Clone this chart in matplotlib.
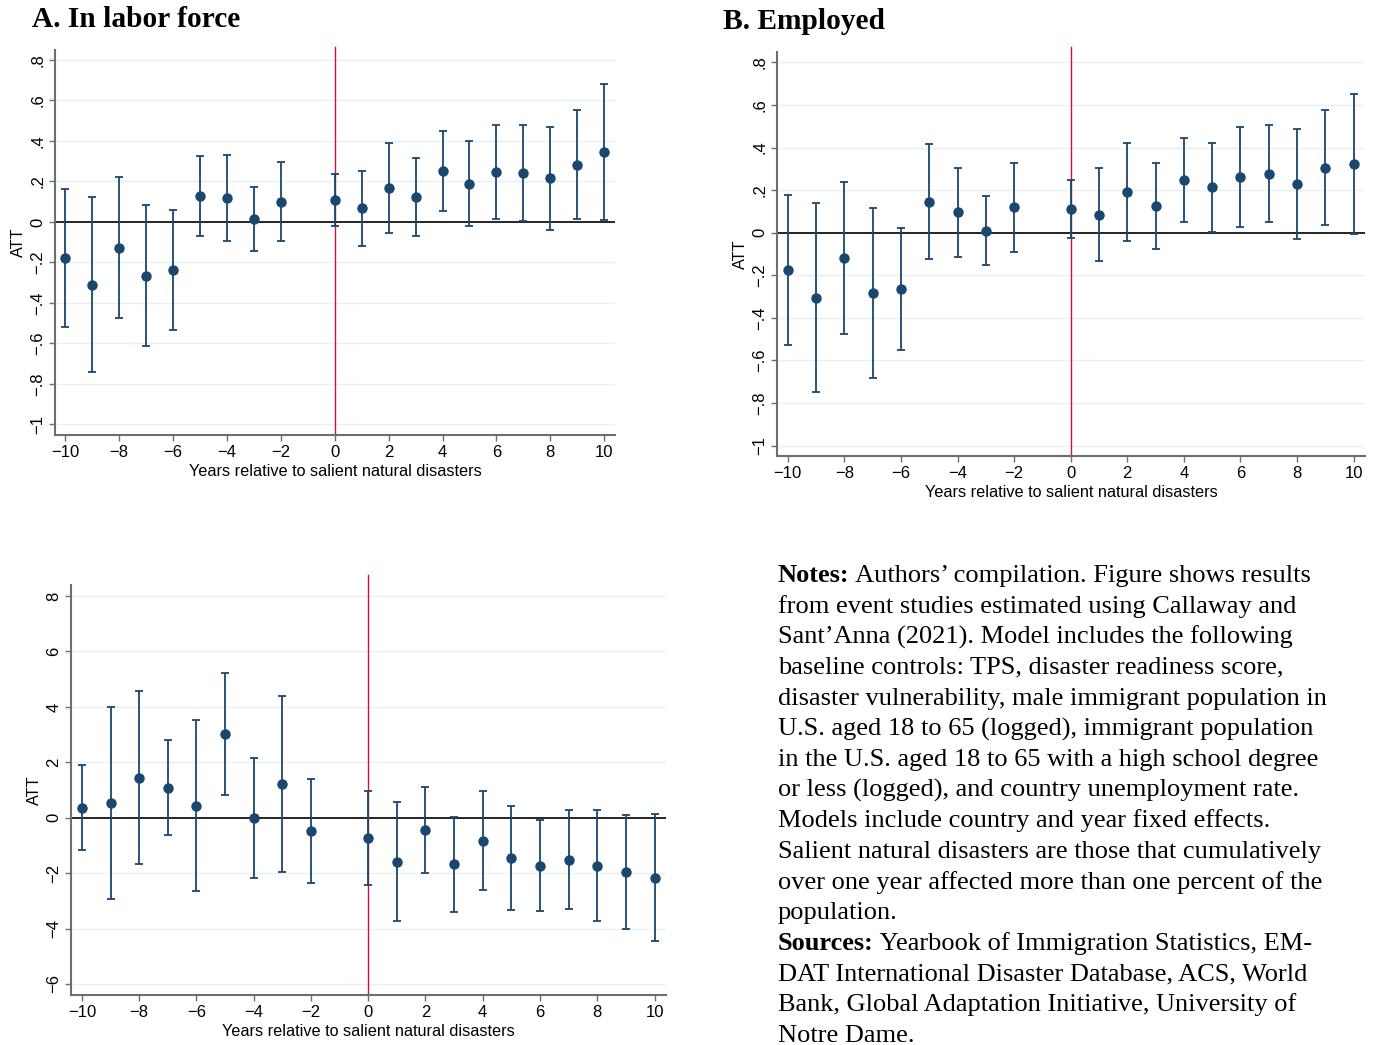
import matplotlib
matplotlib.use("Agg")
import matplotlib.pyplot as plt
import numpy as np

plt.rcParams['font.family'] = ['Liberation Sans', 'DejaVu Sans']

years = [-10, -9, -8, -7, -6, -5, -4, -3, -2, 0, 1, 2, 3, 4, 5, 6, 7, 8, 9, 10]

# A. In labor force
att_a = [-0.179, -0.309, -0.127, -0.265, -0.237, 0.128, 0.120, 0.013, 0.099, 0.107,
         0.067, 0.168, 0.123, 0.250, 0.189, 0.247, 0.244, 0.216, 0.283, 0.347]
hi_a = [0.161, 0.125, 0.222, 0.086, 0.059, 0.326, 0.333, 0.171, 0.295, 0.235,
        0.253, 0.392, 0.314, 0.448, 0.402, 0.481, 0.481, 0.471, 0.553, 0.683]
lo_a = [-0.517, -0.741, -0.474, -0.612, -0.532, -0.069, -0.092, -0.142, -0.095, -0.018,
        -0.117, -0.053, -0.067, 0.053, -0.018, 0.013, 0.007, -0.040, 0.015, 0.012]

# B. Employed
att_b = [-0.177, -0.305, -0.119, -0.285, -0.265, 0.146, 0.095, 0.009, 0.119, 0.111,
         0.085, 0.191, 0.125, 0.249, 0.213, 0.261, 0.277, 0.227, 0.305, 0.323]
hi_b = [0.175, 0.138, 0.236, 0.116, 0.023, 0.418, 0.304, 0.171, 0.329, 0.249,
        0.302, 0.420, 0.326, 0.446, 0.423, 0.498, 0.507, 0.485, 0.578, 0.654]
lo_b = [-0.528, -0.748, -0.474, -0.684, -0.553, -0.125, -0.113, -0.152, -0.089, -0.025,
        -0.132, -0.039, -0.077, 0.052, 0.005, 0.027, 0.049, -0.030, 0.034, -0.006]

# C. (untitled panel)
att_c = [0.361, 0.529, 1.444, 1.083, 0.433, 3.020, 0.0, 1.215, -0.493, -0.746,
         -1.588, -0.457, -1.684, -0.830, -1.456, -1.732, -1.528, -1.744, -1.973, -2.165]
hi_c = [1.889, 4.006, 4.559, 2.815, 3.513, 5.233, 2.141, 4.379, 1.395, 0.950,
        0.577, 1.095, 0.036, 0.962, 0.409, -0.096, 0.265, 0.265, 0.096, 0.120]
lo_c = [-1.167, -2.935, -1.660, -0.638, -2.647, 0.806, -2.165, -1.949, -2.358, -2.418,
        -3.741, -2.009, -3.392, -2.611, -3.320, -3.368, -3.308, -3.729, -4.030, -4.439]

xticks = [-10, -8, -6, -4, -2, 0, 2, 4, 6, 8, 10]
xticklabels = ['\u221210', '\u22128', '\u22126', '\u22124', '\u22122', '0', '2', '4', '6', '8', '10']
yticks_ab = [0.8, 0.6, 0.4, 0.2, 0, -0.2, -0.4, -0.6, -0.8, -1]
yticklabels_ab = ['.8', '.6', '.4', '.2', '0', '\u2212.2', '\u2212.4', '\u2212.6', '\u2212.8', '\u22121']
yticks_c = [8, 6, 4, 2, 0, -2, -4, -6]
yticklabels_c = ['8', '6', '4', '2', '0', '\u22122', '\u22124', '\u22126']

W, H = 1381, 1045
fig = plt.figure(figsize=(W / 100, H / 100), dpi=100)

navy = '#1a476f'
red = '#d0103a'
grid_c = '#e8f0f2'
spine_c = '#6e6e6e'


def px_axes(left, top, right, bottom):
    return fig.add_axes([left / W, 1 - bottom / H, (right - left) / W, (bottom - top) / H])


def draw_panel(ax, att, lo, hi, yticks, ylabels, ylim, vtop):
    x = np.array(years)
    att = np.array(att)
    yerr = [att - np.array(lo), np.array(hi) - att]
    for t in yticks:
        if t != 0:
            ax.axhline(t, color=grid_c, lw=1.0, zorder=0)
    ax.axhline(0, color='black', lw=1.2, zorder=1)
    ax.axvline(0, ymin=0, ymax=vtop, color=red, lw=1.0, zorder=2, clip_on=False)
    ax.errorbar(x, att, yerr=yerr, fmt='o', color=navy, ecolor=navy, elinewidth=1.3,
                capsize=3, capthick=1.3, ms=6.5, zorder=3)
    ax.set_xlim(-10.38, 10.4)
    ax.set_ylim(*ylim)
    ax.set_xticks(xticks)
    ax.set_xticklabels(xticklabels, fontsize=12)
    ax.set_yticks(yticks)
    ax.set_yticklabels(ylabels, fontsize=12, rotation=90, va='center')
    for s in ['top', 'right']:
        ax.spines[s].set_visible(False)
    for s in ['left', 'bottom']:
        ax.spines[s].set_color(spine_c)
        ax.spines[s].set_linewidth(1.5)
    ax.tick_params(axis='both', direction='out', length=4, width=1.0, color=spine_c, pad=3)
    ax.set_xlabel('Years relative to salient natural disasters', fontsize=11.7, labelpad=3)
    ax.set_ylabel('ATT', fontsize=11.7, labelpad=3)


ax_a = px_axes(55, 50, 615, 435)
draw_panel(ax_a, att_a, lo_a, hi_a, yticks_ab, yticklabels_ab, (-1.052, 0.849), 1.008)

ax_b = px_axes(777, 52, 1365, 456)
draw_panel(ax_b, att_b, lo_b, hi_b, yticks_ab, yticklabels_ab, (-1.049, 0.849), 1.012)

ax_c = px_axes(71, 585, 666, 995)
draw_panel(ax_c, att_c, lo_c, hi_c, yticks_c, yticklabels_c, (-6.4, 8.4), 1.024)

serif = ['Liberation Serif', 'DejaVu Serif']
fig.text(32 / W, 1 - 27 / H, 'A. In labor force', fontsize=21.2, fontweight='bold',
         family=serif, va='baseline', ha='left')
fig.text(723 / W, 1 - 29 / H, 'B. Employed', fontsize=21.2, fontweight='bold',
         family=serif, va='baseline', ha='left')

notes = [
    ('Notes:', ' Authors\u2019 compilation. Figure shows results'),
    ('', 'from event studies estimated using Callaway and'),
    ('', 'Sant\u2019Anna (2021). Model includes the following'),
    ('', 'baseline controls: TPS, disaster readiness score,'),
    ('', 'disaster vulnerability, male immigrant population in'),
    ('', 'U.S. aged 18 to 65 (logged), immigrant population'),
    ('', 'in the U.S. aged 18 to 65 with a high school degree'),
    ('', 'or less (logged), and country unemployment rate.'),
    ('', 'Models include country and year fixed effects.'),
    ('', 'Salient natural disasters are those that cumulatively'),
    ('', 'over one year affected more than one percent of the'),
    ('', 'population.'),
    ('Sources:', ' Yearbook of Immigration Statistics, EM-'),
    ('', 'DAT International Disaster Database, ACS, World'),
    ('', 'Bank, Global Adaptation Initiative, University of'),
    ('', 'Notre Dame.'),
]
note_fs = 19
renderer = fig.canvas.get_renderer()
for i, (bold, rest) in enumerate(notes):
    yb = 1 - (582 + i * 30.65) / H
    x0 = 778
    if bold:
        t = fig.text(x0 / W, yb, bold, fontsize=note_fs, fontweight='bold', family=serif,
                     va='baseline', ha='left')
        x0 = t.get_window_extent(renderer).x1
    fig.text(x0 / W, yb, rest, fontsize=note_fs, family=serif, va='baseline', ha='left')

fig.savefig('out.png', dpi=100)
